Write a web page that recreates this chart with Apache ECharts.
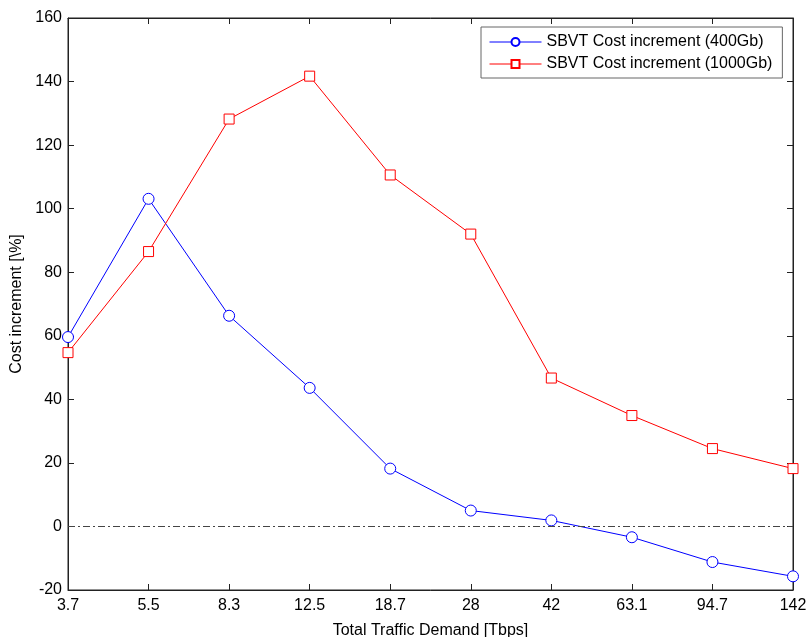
<!DOCTYPE html>
<html><head><meta charset="utf-8">
<script src="https://cdn.jsdelivr.net/npm/echarts@6/dist/echarts.min.js"></script>
<style>html,body{margin:0;padding:0;background:#fff}#c{width:808px;height:637px}</style>
</head><body><div id="c"></div>
<script>
const categories = ['3.7','5.5','8.3','12.5','18.7','28','42','63.1','94.7','142'];
const series400 = [59.6, 103.1, 66.3, 43.6, 18.2, 5.0, 1.9, -3.4, -11.2, -15.7];
const series1000 = [54.7, 86.5, 128.2, 141.7, 110.6, 92.0, 46.7, 34.9, 24.5, 18.2];
const yTicks = {min: -20, max: 160, interval: 20};
const names = ['SBVT Cost increment (400Gb)', 'SBVT Cost increment (1000Gb)'];
const FONT = 'Liberation Sans, Arial, Helvetica, sans-serif';
const chart = echarts.init(document.getElementById('c'));
const axisLine = {show: true, onZero: false, lineStyle: {color: '#222', width: 1}};
chart.setOption({
  animation: false,
  backgroundColor: '#fff',
  grid: {left: 68, right: 15, top: 18, bottom: 47, show: true, borderColor: '#222', borderWidth: 1,
         containLabel: false, outerBoundsMode: 'none'},
  legend: {
    orient: 'vertical', left: 481, top: 27,
    backgroundColor: '#fff', borderColor: '#666', borderWidth: 1,
    padding: [7, 10, 6, 8], itemGap: 6, itemWidth: 52, itemHeight: 10,
    lineStyle: {width: 1},
    textStyle: {fontFamily: FONT, fontSize: 16, color: '#000'},
    data: names
  },
  xAxis: [{
    type: 'category', data: categories, boundaryGap: false,
    name: 'Total Traffic Demand [Tbps]', nameLocation: 'middle', nameGap: 33,
    nameTextStyle: {fontFamily: FONT, fontSize: 16, color: '#000'},
    axisLine: axisLine, axisTick: {inside: true, length: 6, lineStyle: {color: '#222'}},
    axisLabel: {fontFamily: FONT, fontSize: 16, color: '#000', margin: 8},
    splitLine: {show: false}
  }, {
    type: 'category', data: categories, boundaryGap: false, position: 'top',
    axisLine: axisLine, axisTick: {inside: true, length: 6, lineStyle: {color: '#222'}},
    axisLabel: {show: false}, splitLine: {show: false}
  }],
  yAxis: [{
    type: 'value', min: yTicks.min, max: yTicks.max, interval: yTicks.interval,
    name: 'Cost increment [\\%]', nameLocation: 'middle', nameGap: 36,
    nameTextStyle: {fontFamily: FONT, fontSize: 16, color: '#000'},
    axisLine: axisLine, axisTick: {show: true, inside: true, length: 6, lineStyle: {color: '#222'}},
    axisLabel: {fontFamily: FONT, fontSize: 16, color: '#000', margin: 6},
    splitLine: {show: false}
  }, {
    type: 'value', min: yTicks.min, max: yTicks.max, interval: yTicks.interval, position: 'right',
    axisLine: axisLine, axisTick: {show: true, inside: true, length: 6, lineStyle: {color: '#222'}},
    axisLabel: {show: false}, splitLine: {show: false}
  }],
  series: [{
    name: names[0], type: 'line', data: series400,
    symbol: 'circle', symbolSize: 11,
    lineStyle: {color: '#0000ff', width: 1},
    itemStyle: {color: '#fff', borderColor: '#0000ff', borderWidth: 1},
    markLine: {
      silent: true, symbol: 'none', label: {show: false},
      lineStyle: {color: '#444', width: 1, type: [7, 3, 2, 3]},
      data: [{yAxis: 0}]
    }
  }, {
    name: names[1], type: 'line', data: series1000,
    symbol: 'rect', symbolSize: 10,
    lineStyle: {color: '#ff0000', width: 1},
    itemStyle: {color: '#fff', borderColor: '#ff0000', borderWidth: 1}
  }]
});
</script></body></html>
